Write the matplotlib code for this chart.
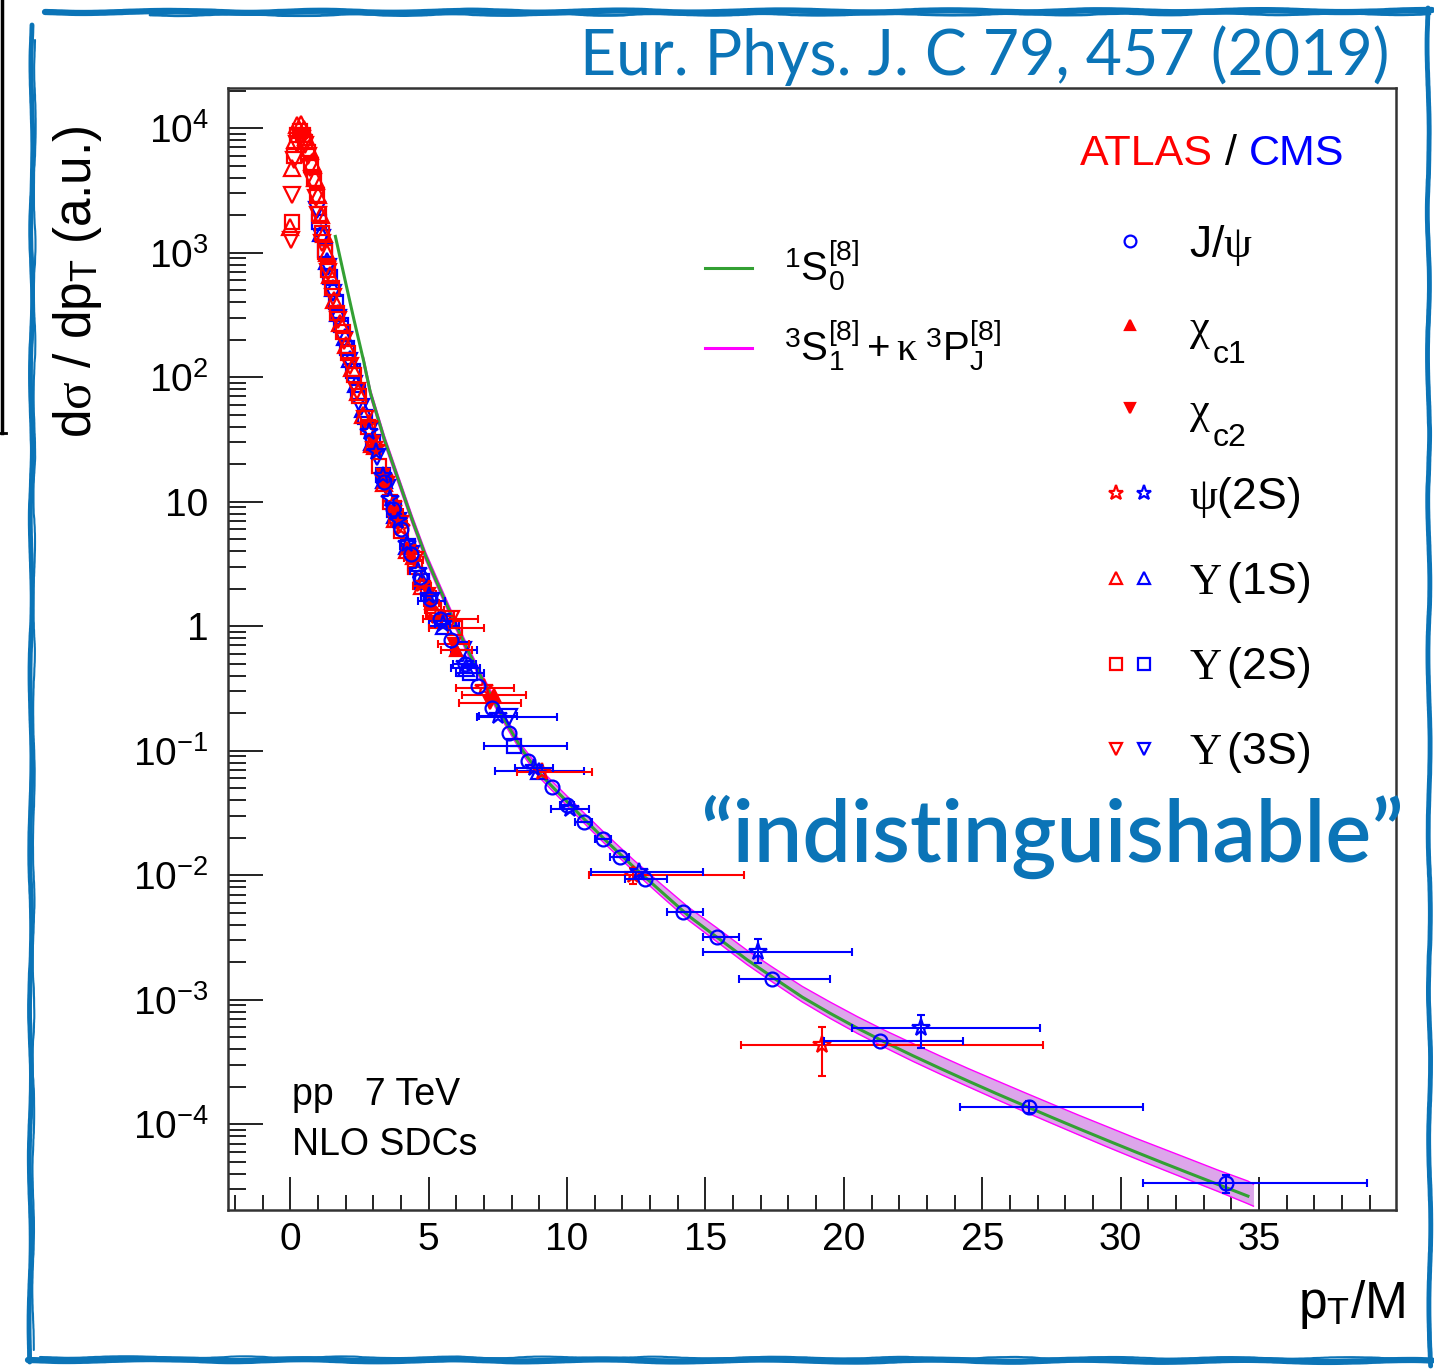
import matplotlib
matplotlib.use("Agg")
import matplotlib.pyplot as plt
from matplotlib.lines import Line2D
from matplotlib.legend_handler import HandlerTuple
from matplotlib.ticker import FixedLocator, FixedFormatter, MultipleLocator, LogLocator, NullFormatter

plt.rcParams["font.family"] = "Liberation Sans"
plt.rcParams["mathtext.fontset"] = "custom"
plt.rcParams["mathtext.rm"] = "Liberation Sans"
plt.rcParams["mathtext.it"] = "Liberation Serif"
plt.rcParams["mathtext.sf"] = "Liberation Serif"
plt.rcParams["mathtext.bf"] = "Liberation Sans:bold"

# ---------------- theory curves ----------------
green_x = [1.63, 2.0, 2.3, 2.65, 2.9, 3.4, 3.9, 4.4, 4.9, 5.4, 5.9, 6.4, 6.9, 7.6, 8.4,
           9.0, 9.6, 10.5, 11.4, 12.4, 13.4, 14.4, 15.4, 16.5, 17.5, 18.5, 19.5, 20.5,
           21.5, 22.5, 23.5, 24.5, 25.5, 26.5, 27.5, 28.5, 29.5, 30.5, 31.5, 32.5, 33.5, 34.6]
green_y = [1350, 575, 290, 135, 74, 31.6, 15.1, 7.2, 3.6, 2.0, 1.12, 0.65, 0.39, 0.20, 0.10,
           0.066, 0.048, 0.030, 0.019, 0.0117, 0.0074, 0.0047, 0.0032, 0.0021, 0.00148, 0.00105,
           7.8e-4, 5.9e-4, 4.55e-4, 3.55e-4, 2.8e-4, 2.22e-4, 1.77e-4, 1.42e-4, 1.14e-4, 9.2e-5,
           7.45e-5, 6.05e-5, 4.93e-5, 4.03e-5, 3.3e-5, 2.65e-5]

band_x = [2.65, 2.9, 3.4, 3.9, 4.4, 4.9, 5.4, 5.9, 6.4, 6.9, 7.6, 8.4, 9.0, 9.6, 10.5, 11.4,
          12.4, 13.4, 14.4, 15.4, 16.5, 17.5, 18.5, 19.5, 20.5, 21.5, 22.5, 23.5, 24.5, 25.5,
          26.5, 27.5, 28.5, 29.5, 30.5, 31.5, 32.5, 33.5, 34.6, 34.8]
band_lo = [126, 69, 29.4, 14.0, 6.7, 3.35, 1.86, 1.04, 0.60, 0.363, 0.186, 0.093, 0.061, 0.0445,
           0.0278, 0.0176, 0.0108, 0.0068, 0.00433, 0.00294, 0.00192, 0.00135, 9.6e-4, 7.1e-4,
           5.35e-4, 4.12e-4, 3.2e-4, 2.52e-4, 2.0e-4, 1.59e-4, 1.27e-4, 1.02e-4, 8.2e-5, 6.6e-5,
           5.35e-5, 4.35e-5, 3.55e-5, 2.9e-5, 2.3e-5, 2.2e-5]
band_hi = [144, 79, 34, 16.2, 7.75, 3.88, 2.16, 1.21, 0.70, 0.42, 0.216, 0.108, 0.072, 0.053,
           0.0335, 0.0214, 0.0133, 0.0085, 0.0055, 0.0038, 0.0025, 0.00178, 1.28e-3, 9.6e-4,
           7.3e-4, 5.65e-4, 4.45e-4, 3.52e-4, 2.8e-4, 2.25e-4, 1.81e-4, 1.46e-4, 1.18e-4, 9.6e-5,
           7.8e-5, 6.4e-5, 5.25e-5, 4.3e-5, 3.5e-5, 3.3e-5]

# ---------------- data points ----------------
# CMS J/psi
cms_jpsi_x = [3.4, 3.7, 4.0, 4.35, 4.7, 5.05, 5.4, 5.8, 6.3, 6.8, 7.3, 7.9, 8.6, 9.46, 10.0,
              10.6, 11.3, 11.9, 12.8, 14.2, 15.4, 17.4, 21.3, 26.7, 33.8]
cms_jpsi_y = [14.5, 8.8, 6.0, 3.8, 2.5, 1.65, 1.15, 0.78, 0.50, 0.33, 0.22, 0.14, 0.083, 0.051,
              0.037, 0.027, 0.0195, 0.014, 0.0093, 0.0051, 0.0032, 0.00148, 4.7e-4, 1.38e-4, 3.4e-5]
cms_jpsi_xm = [0.16] * 14 + [0.25, 0.3, 0.3, 0.35, 0.7, 0.6, 0.5, 1.2, 2.0, 2.5, 3.0]
cms_jpsi_xp = [0.16] * 14 + [0.25, 0.3, 0.3, 0.35, 0.8, 0.7, 0.8, 2.1, 3.0, 4.1, 5.1]
cms_jpsi_ym = [0] * 23 + [1.5e-5, 0.6e-5]
cms_jpsi_yp = [0] * 23 + [1.5e-5, 0.5e-5]

# CMS psi(2S)
cms_psi2s_x = [2.85, 3.1, 3.35, 3.6, 3.9, 4.2, 4.6, 5.0, 5.5, 6.3, 7.5, 8.8, 10.1, 12.6, 16.9, 22.8]
cms_psi2s_y = [36, 25, 16, 10.5, 7.0, 4.6, 2.8, 1.75, 1.05, 0.50, 0.19, 0.072, 0.034, 0.0106,
               0.0024, 5.9e-4]
cms_psi2s_xm = [0.14] * 6 + [0.27, 0.27, 0.27, 0.41, 0.68, 0.68, 0.68, 1.75, 2.0, 2.5]
cms_psi2s_xp = [0.14] * 6 + [0.27, 0.27, 0.27, 0.41, 0.68, 0.68, 0.68, 2.3, 3.4, 4.3]
cms_psi2s_ym = [0] * 14 + [4.4e-4, 1.8e-4]
cms_psi2s_yp = [0] * 14 + [7.0e-4, 1.7e-4]

# ATLAS psi(2S)
atl_psi2s_x = [2.85, 3.1, 3.4, 3.7, 4.0, 4.35, 4.75, 5.3, 7.0, 9.1, 12.4, 19.2]
atl_psi2s_y = [42, 27, 15.5, 9.5, 6.2, 3.8, 2.2, 1.2, 0.32, 0.067, 0.0100, 4.35e-4]
atl_psi2s_xm = [0.14] * 6 + [0.2, 0.4, 1.0, 0.9, 1.6, 2.9]
atl_psi2s_xp = [0.14] * 6 + [0.2, 0.6, 1.1, 1.8, 4.0, 8.0]
atl_psi2s_ym = [0] * 10 + [0.0015, 1.9e-4]
atl_psi2s_yp = [0] * 10 + [0.0015, 1.65e-4]

# ATLAS chi_c1, chi_c2
atl_chic1_x = [3.0, 3.4, 3.85, 4.4, 5.1, 6.0, 7.35]
atl_chic1_y = [27, 14.5, 7.2, 3.5, 1.55, 0.64, 0.28]
atl_chic1_xe = [0.14, 0.14, 0.28, 0.28, 0.28, 0.57, 1.15]
atl_chic2_x = [3.0, 3.35, 3.8, 4.3, 5.0, 5.9, 7.2]
atl_chic2_y = [30, 16.5, 8.2, 4.0, 1.8, 0.72, 0.24]
atl_chic2_xe = [0.14, 0.14, 0.28, 0.28, 0.28, 0.56, 1.12]

# ATLAS Upsilon(1S, 2S, 3S)
atl_y1s_x = [0.0, 0.05, 0.16, 0.26, 0.37, 0.48, 0.58, 0.69, 0.79, 0.9, 1.0, 1.11, 1.22, 1.32,
             1.43, 1.59, 1.8, 2.01, 2.22, 2.43, 2.64, 2.96, 3.38, 3.8, 4.23, 4.76]
atl_y1s_y = [1.6e3, 4.8e3, 8.0e3, 1.05e4, 1.08e4, 9.9e3, 8.5e3, 6.9e3, 5.3e3, 4.0e3, 2.9e3,
             2.0e3, 1.42e3, 990, 660, 420, 270, 180, 118, 76, 50, 29, 14, 7.2, 4.1, 2.1]
atl_y1s_xe = [0.05] * 15 + [0.1] * 6 + [0.16, 0.21, 0.21, 0.21, 0.32]

atl_y2s_x = [0.05, 0.15, 0.25, 0.35, 0.45, 0.55, 0.65, 0.75, 0.85, 0.95, 1.05, 1.15, 1.25, 1.35,
             1.5, 1.7, 1.9, 2.1, 2.3, 2.5, 2.8, 3.2, 3.6, 4.0, 4.5, 5.2, 5.95]
atl_y2s_y = [1.77e3, 6.0e3, 8.8e3, 9.4e3, 8.8e3, 7.8e3, 6.4e3, 5.1e3, 3.9e3, 2.9e3, 2.05e3, 1.45e3,
             1.02e3, 730, 520, 330, 230, 155, 104, 70, 40, 19.5, 10, 5.8, 3.0, 1.35, 0.96]
atl_y2s_xm = [0.05] * 14 + [0.1] * 6 + [0.15, 0.2, 0.2, 0.2, 0.25, 0.35, 0.95]
atl_y2s_xp = [0.05] * 14 + [0.1] * 6 + [0.15, 0.2, 0.2, 0.2, 0.25, 0.35, 1.05]

atl_y3s_x = [0.03, 0.07, 0.15, 0.24, 0.34, 0.43, 0.53, 0.63, 0.72, 0.82, 0.92, 1.01, 1.16, 1.35,
             1.54, 1.74, 1.93, 2.17, 2.41, 2.7, 3.04, 3.47, 3.96, 4.5, 5.8]
atl_y3s_y = [1.27e3, 2.9e3, 5.5e3, 7.5e3, 8.5e3, 8.2e3, 7.3e3, 6.0e3, 4.8e3, 3.7e3, 2.75e3, 2.0e3,
             1.2e3, 700, 440, 290, 195, 122, 78, 46, 26, 13.5, 6.6, 3.4, 1.14]
atl_y3s_xe = [0.05] * 12 + [0.1] * 7 + [0.15, 0.2, 0.2, 0.25, 0.3, 1.0]

# CMS Upsilon(1S, 2S, 3S)
cms_y1s_x = [1.11, 1.32, 1.53, 1.74, 1.96, 2.17, 2.38, 2.64, 2.96, 3.38, 3.8, 4.23, 4.76, 5.55,
             6.34, 9.0]
cms_y1s_y = [1.45e3, 850, 520, 330, 210, 140, 88, 55, 30, 15, 7.8, 4.4, 2.3, 1.0, 0.46, 0.069]
cms_y1s_xe = [0.1] * 7 + [0.16, 0.16, 0.26, 0.16, 0.26, 0.26, 0.53, 0.53, 1.6]

cms_y2s_x = [1.05, 1.25, 1.45, 1.65, 1.85, 2.05, 2.25, 2.45, 2.7, 3.0, 3.35, 3.75, 4.25, 4.75,
             5.5, 6.5, 8.1]
cms_y2s_y = [1.75e3, 1.05e3, 640, 400, 260, 170, 112, 76, 48, 30, 16.5, 8.5, 4.4, 2.3, 1.1,
             0.42, 0.11]
cms_y2s_xm = [0.1] * 8 + [0.15, 0.15, 0.2, 0.2, 0.25, 0.25, 0.5, 0.5, 1.1]
cms_y2s_xp = [0.1] * 8 + [0.15, 0.15, 0.2, 0.2, 0.25, 0.25, 0.5, 0.5, 1.9]

cms_y3s_x = [0.97, 1.16, 1.35, 1.54, 1.74, 1.93, 2.12, 2.32, 2.56, 2.85, 3.14, 3.5, 3.9, 4.35,
             5.1, 6.25, 7.9]
cms_y3s_y = [2.2e3, 1.3e3, 760, 470, 300, 200, 135, 88, 58, 37, 23, 13, 7.0, 3.8, 1.6, 0.65,
             0.186]
cms_y3s_xm = [0.1] * 8 + [0.14, 0.14, 0.14, 0.19, 0.19, 0.24, 0.48, 0.45, 1.14]
cms_y3s_xp = [0.1] * 8 + [0.14, 0.14, 0.14, 0.19, 0.19, 0.24, 0.48, 0.5, 1.75]

ytick_vals = [1e-4, 1e-3, 1e-2, 1e-1, 1, 10, 1e2, 1e3, 1e4]
ytick_text = [r"$\mathregular{10^{-4}}$", r"$\mathregular{10^{-3}}$", r"$\mathregular{10^{-2}}$",
              r"$\mathregular{10^{-1}}$", "1", "10", r"$\mathregular{10^{2}}$",
              r"$\mathregular{10^{3}}$", r"$\mathregular{10^{4}}$"]

RED = "#ff0000"
BLUE = "#0000ff"
GREEN = "#33a033"
MAGENTA = "#ff00ff"
BAND = "#dca6ea"
SKETCH = "#0b74b7"

W, H = 1434, 1369
fig = plt.figure(figsize=(W / 100, H / 100), dpi=100)
fig.patch.set_facecolor("white")

ax = fig.add_axes([228 / W, 1 - 1210 / H, 1168 / W, 1122 / H])
ax.set_yscale("log")
ax.set_xlim(-2.25, 39.95)
ax.set_ylim(2.05e-5, 2.1e4)

# theory
ax.fill_between(band_x, band_lo, band_hi, color=BAND, lw=0, zorder=2)
ax.plot(band_x, band_lo, color=MAGENTA, lw=1.0, zorder=2.1)
mag_line, = ax.plot(band_x, band_hi, color=MAGENTA, lw=1.0, zorder=2.1)
green_line, = ax.plot(green_x, green_y, color=GREEN, lw=2.2, zorder=3)


def draw(x, y, marker, color, filled, ms=11, xm=None, xp=None, ym=None, yp=None, z=5):
    n = len(x)
    xm = xm if xm is not None else [0] * n
    xp = xp if xp is not None else xm
    ym = ym if ym is not None else [0] * n
    yp = yp if yp is not None else ym
    h, = ax.plot(x, y, ls="none", marker=marker, ms=ms, mec=color,
                 mfc=color if filled else "none", mew=1.6, zorder=z)
    sel = [i for i in range(n) if xm[i] + xp[i] >= 0.5 or ym[i] + yp[i] > 0]
    if sel:
        ax.errorbar([x[i] for i in sel], [y[i] for i in sel],
                    xerr=[[xm[i] for i in sel], [xp[i] for i in sel]],
                    yerr=[[ym[i] for i in sel], [yp[i] for i in sel]],
                    fmt="none", ecolor=color, elinewidth=1.5, capsize=3, capthick=1.5,
                    zorder=z - 0.5)
    return h


h_cy3 = draw(cms_y3s_x, cms_y3s_y, "v", BLUE, False, xm=cms_y3s_xm, xp=cms_y3s_xp, z=4)
h_cy2 = draw(cms_y2s_x, cms_y2s_y, "s", BLUE, False, ms=10, xm=cms_y2s_xm, xp=cms_y2s_xp, z=4)
h_cy1 = draw(cms_y1s_x, cms_y1s_y, "^", BLUE, False, xm=cms_y1s_xe, z=4)
h_ay3 = draw(atl_y3s_x, atl_y3s_y, "v", RED, False, xm=atl_y3s_xe, z=5)
h_ay2 = draw(atl_y2s_x, atl_y2s_y, "s", RED, False, ms=10, xm=atl_y2s_xm, xp=atl_y2s_xp, z=5)
h_ay1 = draw(atl_y1s_x, atl_y1s_y, "^", RED, False, xm=atl_y1s_xe, z=5)
h_c1 = draw(atl_chic1_x, atl_chic1_y, "^", RED, True, ms=9, xm=atl_chic1_xe, z=6)
h_c2 = draw(atl_chic2_x, atl_chic2_y, "v", RED, True, ms=9, xm=atl_chic2_xe, z=6)
h_ap = draw(atl_psi2s_x, atl_psi2s_y, "*", RED, False, ms=13, xm=atl_psi2s_xm, xp=atl_psi2s_xp,
            ym=atl_psi2s_ym, yp=atl_psi2s_yp, z=6)
h_cp = draw(cms_psi2s_x, cms_psi2s_y, "*", BLUE, False, ms=13, xm=cms_psi2s_xm, xp=cms_psi2s_xp,
            ym=cms_psi2s_ym, yp=cms_psi2s_yp, z=7)
h_jp = draw(cms_jpsi_x, cms_jpsi_y, "o", BLUE, False, ms=10, xm=cms_jpsi_xm, xp=cms_jpsi_xp,
            ym=cms_jpsi_ym, yp=cms_jpsi_yp, z=8)

# axes styling (ROOT-like)
for s in ax.spines.values():
    s.set_linewidth(1.8)
    s.set_color("#333333")
ax.xaxis.set_major_locator(MultipleLocator(5))
ax.xaxis.set_minor_locator(MultipleLocator(1))
ax.yaxis.set_major_locator(FixedLocator(ytick_vals))
ax.yaxis.set_major_formatter(FixedFormatter(ytick_text))
ax.yaxis.set_minor_locator(LogLocator(base=10, subs=range(2, 10), numticks=30))
ax.yaxis.set_minor_formatter(NullFormatter())
ax.tick_params(which="both", direction="in", top=False, right=False, width=1.4,
               color="#222222", labelsize=28)
ax.tick_params(axis="x", which="major", length=24, pad=9)
ax.tick_params(axis="x", which="minor", length=11)
ax.tick_params(axis="y", which="major", length=25, pad=14)
ax.tick_params(axis="y", which="minor", length=13)

fig.text(78 / W, 1 - 125 / H, r"d$\sigma$ / dp$_{\mathrm{T}}$ (a.u.)",
         rotation=90, ha="center", va="top", fontsize=37)
fig.text(1405 / W, 1 - 1318 / H, r"p$_{\mathrm{T}}$/M",
         ha="right", va="baseline", fontsize=37)

fig.text(292 / W, 1 - 1105 / H, "pp   7 TeV", fontsize=27, va="baseline")
fig.text(292 / W, 1 - 1155 / H, "NLO SDCs", fontsize=27, va="baseline")

# ATLAS / CMS header
t1 = fig.text(1080 / W, 1 - 165 / H, "ATLAS", color=RED, fontsize=31, va="baseline")
t2 = ax.annotate(" / ", xy=(1, 0), xycoords=t1, color="black", fontsize=31, va="bottom")
ax.annotate("CMS", xy=(1, 0), xycoords=t2, color=BLUE, fontsize=31, va="bottom")

# legends
leg1 = ax.legend([green_line, mag_line],
                 [r"${}^{1}\mathrm{S}_{0}^{[8]}$",
                  r"${}^{3}\mathrm{S}_{1}^{[8]}+\kappa\;{}^{3}\mathrm{P}_{\mathrm{J}}^{[8]}$"],
                 loc="upper left", bbox_to_anchor=(705 / W, 1 - 238 / H),
                 bbox_transform=fig.transFigure, frameon=False, fontsize=29,
                 borderpad=0, borderaxespad=0, handlelength=1.17, handletextpad=0.8,
                 labelspacing=0.62)
for ln in leg1.get_lines():
    ln.set_linewidth(2.2)
ax.add_artist(leg1)

leg2 = ax.legend([(h_jp,), (h_c1,), (h_c2,), (h_ap, h_cp), (h_ay1, h_cy1), (h_ay2, h_cy2),
                  (h_ay3, h_cy3)],
                 [r"$\mathrm{J/}\psi$", r"$\chi$", r"$\chi$",
                  r"$\psi\mathrm{(2S)}$", r"$\mathsf{\Upsilon}\,\mathrm{(1S)}$",
                  r"$\mathsf{\Upsilon}\,\mathrm{(2S)}$", r"$\mathsf{\Upsilon}\,\mathrm{(3S)}$"],
                 handler_map={tuple: HandlerTuple(ndivide=None, pad=0.25)},
                 loc="upper left", bbox_to_anchor=(1108 / W, 1 - 223 / H),
                 bbox_transform=fig.transFigure, frameon=False, fontsize=32,
                 borderpad=0, borderaxespad=0, handlelength=1.01, handletextpad=0.82,
                 labelspacing=0.905, markerscale=0.85)
# low-hanging ROOT-style subscripts for chi_c1 / chi_c2
leg_texts = leg2.get_texts()
for i, sub in ((1, "c1"), (2, "c2")):
    ax.annotate(sub, xy=(1, 0), xycoords=leg_texts[i], xytext=(1, 8), textcoords="offset points",
                fontsize=23, ha="left", va="top")

# slide decorations: citation, handwriting note, sketchy border
cite = fig.text(1390 / W, 1 - 75 / H, "Eur. Phys. J. C 79, 457 (2019)", color=SKETCH,
                fontsize=40, ha="right", va="baseline", family="Lato", fontweight="normal")
note = fig.text(700 / W, 1 - 862 / H, "\u201cindistinguishable\u201d", color=SKETCH,
                fontsize=44, ha="left", va="baseline", family="Lato", fontweight=600)

fig.canvas.draw()
r = fig.canvas.get_renderer()
for t, target in ((cite, 810), (note, 703)):
    w = t.get_window_extent(renderer=r).width
    t.set_fontsize(t.get_fontsize() * target / w)


def sketch(xs, ys, lw, scale=1.0, length=220, rand=4):
    ln = Line2D([v / W for v in xs], [1 - v / H for v in ys], transform=fig.transFigure,
                color=SKETCH, lw=lw, solid_capstyle="round")
    ln.set_sketch_params(scale=scale, length=length, randomness=rand)
    fig.add_artist(ln)


sketch([45, 1432], [12, 11], 4.5)
sketch([150, 1430], [15, 14], 2.0, scale=0.8, rand=8)
sketch([32, 30], [25, 1362], 3.5)
sketch([35, 33], [40, 1350], 1.5, scale=0.8, rand=8)
sketch([28, 1432], [1360, 1361], 4.5)
sketch([40, 1400], [1357, 1358], 1.5, scale=0.8, rand=8)
sketch([1428, 1430], [8, 1366], 3.5)

fig.add_artist(Line2D([2 / W, 2 / W], [1, 1 - 433 / H], transform=fig.transFigure,
                      color="black", lw=2.5))
fig.add_artist(Line2D([0, 6 / W], [1 - 433 / H, 1 - 433 / H], transform=fig.transFigure,
                      color="black", lw=2.0))

fig.savefig("out.png", dpi=100)
